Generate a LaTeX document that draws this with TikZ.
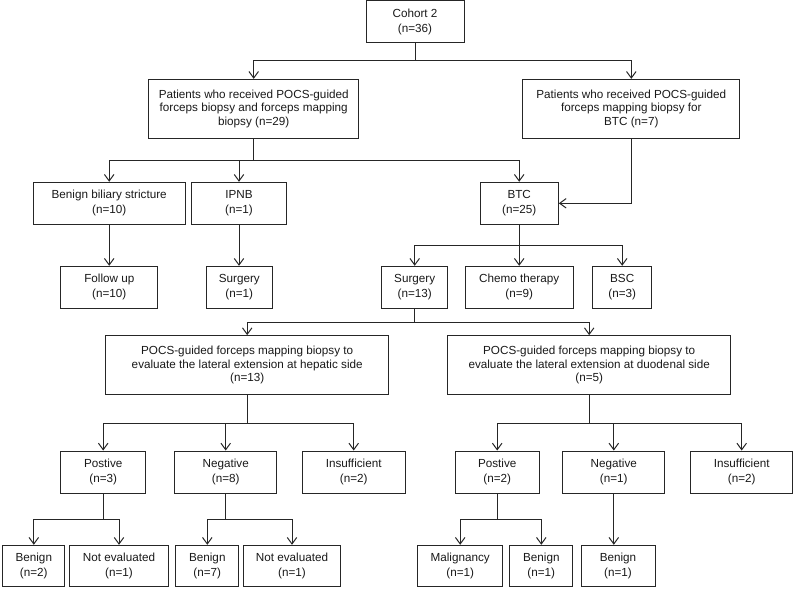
\documentclass[tikz,border=0pt]{standalone}
\usepackage{fontspec}
\setmainfont{Liberation Sans}
\usetikzlibrary{arrows.meta}
\tikzset{
  box/.style={draw=black!85, line width=1pt, rectangle, inner sep=0pt, align=center,
    text=black!90, font=\fontsize{11.7}{14.7}\selectfont},
  bigbox/.style={box, font=\fontsize{11.7}{13.6}\selectfont},
  conn/.style={draw=black!85, line width=1pt},
  arr/.style={conn, -{Straight Barb[length=6.5pt,width=9.5pt,line width=1pt]}}
}
\begin{document}
\begin{tikzpicture}[x=1pt,y=-1pt]
\useasboundingbox (0,0) rectangle (796,591);
% level 0
\node[box, minimum width=98pt, minimum height=42pt] (cohort) at (415,22) {Cohort 2\\(n=36)};
% level 1
\node[bigbox, minimum width=210pt, minimum height=58.7pt] (A) at (253.7,108.7)
  {Patients who received POCS-guided\\forceps biopsy and forceps mapping\\biopsy (n=29)};
\node[bigbox, minimum width=217.3pt, minimum height=58.7pt] (B) at (631.3,108.7)
  {Patients who received POCS-guided\\forceps mapping biopsy for\\BTC (n=7)};
% level 2
\node[box, minimum width=151.7pt, minimum height=42pt] (bbs) at (109.2,203.3) {Benign biliary stricture\\(n=10)};
\node[box, minimum width=94.6pt, minimum height=42pt] (ipnb) at (239,203.3) {IPNB\\(n=1)};
\node[box, minimum width=78.3pt, minimum height=42pt] (btc) at (519.2,203.3) {BTC\\(n=25)};
% level 3
\node[box, minimum width=96.7pt, minimum height=42pt] (fu) at (109.3,287.3) {Follow up\\(n=10)};
\node[box, minimum width=66pt, minimum height=42pt] (surg1) at (239.3,287.3) {Surgery\\(n=1)};
\node[box, minimum width=66pt, minimum height=42pt] (surg13) at (414.7,287.3) {Surgery\\(n=13)};
\node[box, minimum width=108.3pt, minimum height=42pt] (chemo) at (519.2,287.3) {Chemo therapy\\(n=9)};
\node[box, minimum width=59pt, minimum height=42pt] (bsc) at (622.2,287.3) {BSC\\(n=3)};
% level 4
\node[bigbox, minimum width=283pt, minimum height=59.3pt] (hep) at (247.2,365.3)
  {POCS-guided forceps mapping biopsy to\\evaluate the lateral extension at hepatic side\\(n=13)};
\node[bigbox, minimum width=283pt, minimum height=59.3pt] (duo) at (589.2,365.3)
  {POCS-guided forceps mapping biopsy to\\evaluate the lateral extension at duodenal side\\(n=5)};
% level 5
\node[box, minimum width=85pt, minimum height=42.3pt] (pos3) at (103.2,472.2) {Postive\\(n=3)};
\node[box, minimum width=102pt, minimum height=42.3pt] (neg8) at (225.7,472.2) {Negative\\(n=8)};
\node[box, minimum width=102.7pt, minimum height=42.3pt] (ins1) at (353.7,472.2) {Insufficient\\(n=2)};
\node[box, minimum width=84.3pt, minimum height=42.3pt] (pos2) at (497.2,472.2) {Postive\\(n=2)};
\node[box, minimum width=102.3pt, minimum height=42.3pt] (neg1) at (613.8,472.2) {Negative\\(n=1)};
\node[box, minimum width=102pt, minimum height=42.3pt] (ins2) at (741.7,472.2) {Insufficient\\(n=2)};
% level 6
\node[box, minimum width=62.3pt, minimum height=41.4pt] (b2) at (33.8,566) {Benign\\(n=2)};
\node[box, minimum width=98.6pt, minimum height=41.4pt] (ne1) at (119,566) {Not evaluated\\(n=1)};
\node[box, minimum width=63.3pt, minimum height=41.4pt] (b7) at (207.3,566) {Benign\\(n=7)};
\node[box, minimum width=96.6pt, minimum height=41.4pt] (ne2) at (292,566) {Not evaluated\\(n=1)};
\node[box, minimum width=85pt, minimum height=41.4pt] (mal) at (460.2,566) {Malignancy\\(n=1)};
\node[box, minimum width=62.7pt, minimum height=41.4pt] (b1a) at (541.3,566) {Benign\\(n=1)};
\node[box, minimum width=74pt, minimum height=41.4pt] (b1b) at (618,566) {Benign\\(n=1)};
% junctions
\coordinate (j0) at (415,61);
\coordinate (j1) at (253.7,160.3);
\coordinate (j2) at (519.2,245.7);
\coordinate (j3) at (414.7,322.3);
\coordinate (j4) at (247.2,423.3);
\coordinate (j5) at (589.2,423.3);
\coordinate (j6) at (103.2,519.3);
\coordinate (j7) at (225.7,519.3);
\coordinate (j8) at (497.2,519.3);
% connectors
\draw[conn] (cohort.south) -- (j0);
\draw[arr] (j0) -| (A.north);
\draw[arr] (j0) -| (B.north);
\draw[conn] (A.south) -- (j1);
\draw[arr] (j1) -| (bbs.north);
\draw[arr] (j1) -| (ipnb.north);
\draw[arr] (j1) -| (btc.north);
\draw[arr] (B.south) |- (btc.east);
\draw[arr] (bbs.south) -- (bbs.south |- fu.north);
\draw[arr] (ipnb.south) -- (ipnb.south |- surg1.north);
\draw[conn] (btc.south) -- (j2);
\draw[arr] (j2) -| (surg13.north);
\draw[arr] (j2) -| (chemo.north);
\draw[arr] (j2) -| (bsc.north);
\draw[conn] (surg13.south) -- (j3);
\draw[arr] (j3) -| (hep.north);
\draw[arr] (j3) -| (duo.north);
\draw[conn] (hep.south) -- (j4);
\draw[arr] (j4) -| (pos3.north);
\draw[arr] (j4) -| (neg8.north);
\draw[arr] (j4) -| (ins1.north);
\draw[conn] (duo.south) -- (j5);
\draw[arr] (j5) -| (pos2.north);
\draw[arr] (j5) -| (neg1.north);
\draw[arr] (j5) -| (ins2.north);
\draw[conn] (pos3.south) -- (j6);
\draw[arr] (j6) -| (b2.north);
\draw[arr] (j6) -| (ne1.north);
\draw[conn] (neg8.south) -- (j7);
\draw[arr] (j7) -| (b7.north);
\draw[arr] (j7) -| (ne2.north);
\draw[conn] (pos2.south) -- (j8);
\draw[arr] (j8) -| (mal.north);
\draw[arr] (j8) -| (b1a.north);
\draw[arr] (neg1.south) -- (neg1.south |- b1b.north);
\end{tikzpicture}
\end{document}
